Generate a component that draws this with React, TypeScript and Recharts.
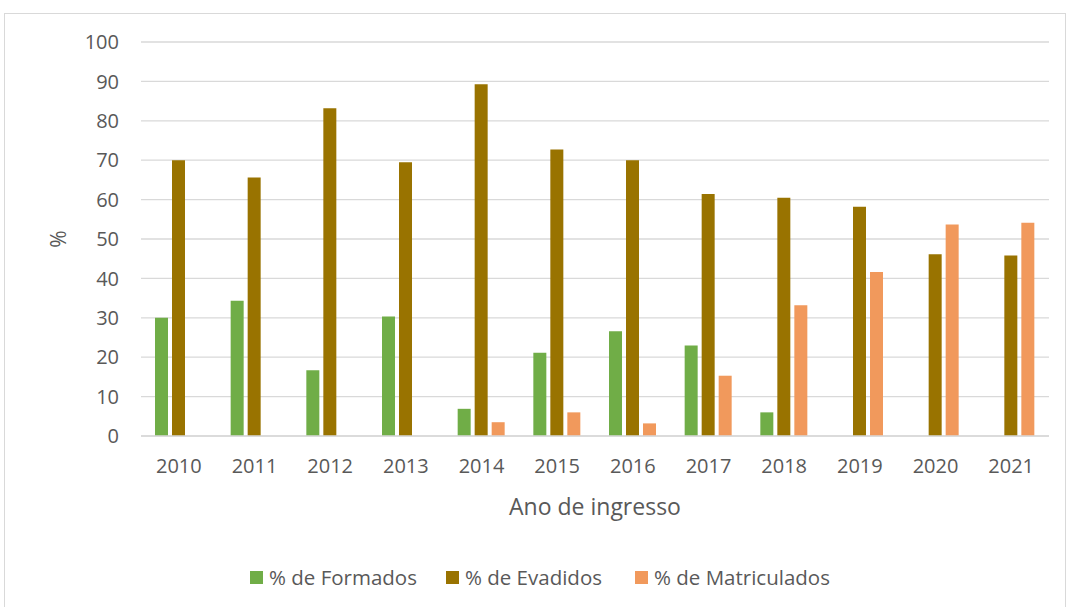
import { BarChart, Bar, XAxis, YAxis, CartesianGrid, Legend, Label } from 'recharts'

const years = ['2010', '2011', '2012', '2013', '2014', '2015', '2016', '2017', '2018', '2019', '2020', '2021']
const formados = [30, 34.3, 16.7, 30.3, 6.9, 21.1, 26.6, 23.0, 6.0, 0, 0, 0]
const evadidos = [70.0, 65.6, 83.2, 69.5, 89.3, 72.7, 70.0, 61.4, 60.5, 58.2, 46.1, 45.8]
const matriculados = [0, 0, 0, 0, 3.5, 6.0, 3.2, 15.3, 33.2, 41.6, 53.7, 54.1]
const yTicks = [0, 10, 20, 30, 40, 50, 60, 70, 80, 90, 100]

const SERIES = [
  { key: 'formados', name: '% de Formados', color: '#70AD47' },
  { key: 'evadidos', name: '% de Evadidos', color: '#997300' },
  { key: 'matriculados', name: '% de Matriculados', color: '#F1995C' },
]

const data = years.map((year, i) => ({
  year,
  formados: formados[i],
  evadidos: evadidos[i],
  matriculados: matriculados[i],
}))

const FONT = '"Open Sans", sans-serif'
const TEXT = '#595959'

function LegendContent() {
  return (
    <div style={{ display: 'flex', fontFamily: FONT, fontSize: 20.5, color: TEXT, whiteSpace: 'nowrap' }}>
      {SERIES.map((s, i) => (
        <div key={s.key} style={{ display: 'flex', alignItems: 'center', marginLeft: i === 0 ? 0 : i === 1 ? 29 : 33 }}>
          <span style={{ width: 13, height: 13, background: s.color, marginRight: 6, display: 'inline-block' }} />
          <span>{s.name}</span>
        </div>
      ))}
    </div>
  )
}

export default function App() {
  return (
    <div
      style={{
        position: 'absolute', left: 4, top: 13, width: 1062, height: 600,
        border: '1px solid #d9d9d9', background: '#fff', boxSizing: 'border-box',
      }}
    >
      <BarChart
        width={1060}
        height={598}
        data={data}
        margin={{ top: 28, right: 16, left: 0, bottom: 0 }}
        barGap={4}
        barSize={13}
      >
        <CartesianGrid vertical={false} stroke="#d9d9d9" strokeWidth={1.3} />
        <XAxis
          dataKey="year"
          height={176}
          tickSize={0}
          tickMargin={23}
          axisLine={{ stroke: '#d9d9d9', strokeWidth: 1.3 }}
          tick={{ fontSize: 20, fill: TEXT, fontFamily: FONT }}
        >
          <Label
            value="Ano de ingresso"
            position="insideTop"
            offset={63}
            style={{ fontSize: 23, fill: TEXT, fontFamily: FONT }}
          />
        </XAxis>
        <YAxis
          width={136}
          domain={[0, 100]}
          ticks={yTicks}
          interval={0}
          tickSize={0}
          tickMargin={22}
          axisLine={false}
          tick={{ fontSize: 20, fill: TEXT, fontFamily: FONT }}
        >
          <Label
            content={(props: any) => {
              const vb = props.viewBox
              const cx = vb.x + 53
              const cy = vb.y + vb.height / 2
              return (
                <text
                  x={cx}
                  y={cy}
                  transform={`rotate(-90 ${cx} ${cy})`}
                  textAnchor="middle"
                  dominantBaseline="central"
                  style={{ fontSize: 21, fill: TEXT, fontFamily: FONT }}
                >
                  %
                </text>
              )
            }}
          />
        </YAxis>
        <Legend
          verticalAlign="middle"
          layout="horizontal"
          content={<LegendContent />}
          wrapperStyle={{ top: 549, left: 245, width: 'auto' }}
        />
        {SERIES.map(s => (
          <Bar key={s.key} dataKey={s.key} name={s.name} fill={s.color} isAnimationActive={false} />
        ))}
      </BarChart>
    </div>
  )
}
